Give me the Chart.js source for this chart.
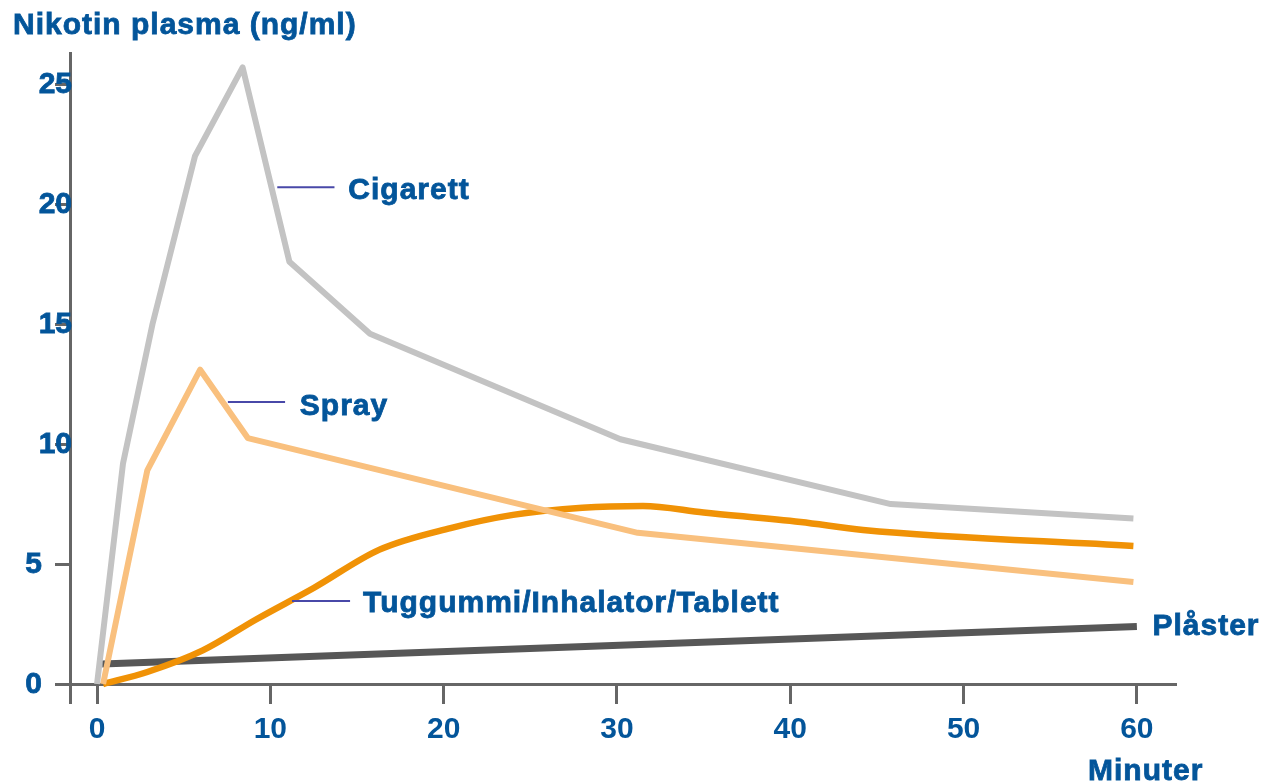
<!DOCTYPE html>
<html>
<head>
<meta charset="utf-8">
<title>Nikotin plasma</title>
<script src="https://cdn.jsdelivr.net/npm/chart.js@4"></script>
<style>
  html, body { margin: 0; padding: 0; background: #fff; }
  #wrap { width: 1261px; height: 783px; position: relative; }
</style>
</head>
<body>
<div id="wrap"><canvas id="nicotine-chart"></canvas></div>
<script>
// Data (minutes, ng/ml)
const cigMinutes = [0, 1.5, 3.2, 5.65, 8.4, 11.1, 15.75, 30.2, 45.8, 59.8];
const cigValues = [0, 9.2, 15, 22, 25.7, 17.6, 14.6, 10.2, 7.5, 6.9];

const sprayMinutes = [0.35, 2.9, 5.95, 8.7, 31.2, 59.8];
const sprayValues = [0, 8.9, 13.1, 10.25, 6.3, 4.25];

const gumMinutes = [0.35, 2.9, 6.1, 9.2, 12.5, 16.3, 20.4, 24, 28, 31.5, 35, 40.6, 44.2, 59.8];
const gumValues = [0, 0.5, 1.4, 2.7, 4.0, 5.6, 6.5, 7.05, 7.35, 7.42, 7.15, 6.75, 6.42, 5.75];

const patchMinutes = [0.3, 60];
const patchValues = [0.83, 2.4];

const xTicks = [0, 10, 20, 30, 40, 50, 60];
const yTicks = [0, 5, 10, 15, 20, 25];

const seriesNames = ["Cigarett", "Spray", "Tuggummi/Inhalator/Tablett", "Plåster"];

const blue = '#03559a';
const axisGray = '#666666';
const font = '"Liberation Sans", Arial, sans-serif';

function points(xs, ys) {
    return xs.map((x, i) => ({x: x, y: ys[i]}));
}

// where the series names sit (data units), kept apart from the data
const labelSpots = [
    {text: seriesNames[0], x: 14.5, y: 20.6, lead: [10.4, 13.7, 20.7]},
    {text: seriesNames[1], x: 11.7, y: 11.6, lead: [7.55, 10.85, 11.75]},
    {text: seriesNames[2], x: 15.35, y: 3.37, lead: [11.25, 14.6, 3.46]},
    {text: seriesNames[3], x: 60.9, y: 2.42}
];

// bold text with a thin outline so it reads as heavy as the original
function heavyText(ctx, txt, x, y) {
    ctx.fillText(txt, x, y);
    ctx.strokeText(txt, x, y);
}

// y tick labels, titles and series labels
const textPlugin = {
    id: 'texts',
    afterDraw(chart) {
        const ctx = chart.ctx;
        const xs = chart.scales.x, ys = chart.scales.y;
        const left = chart.chartArea.left;
        ctx.save();
        ctx.fillStyle = blue;
        ctx.strokeStyle = blue;
        ctx.lineWidth = 0.8;
        ctx.font = 'bold 30px ' + font;
        ctx.textBaseline = 'middle';
        ctx.textAlign = 'right';
        ys.ticks.forEach(t => {
            const lbl = String(t.value);
            heavyText(ctx, lbl, lbl.length > 1 ? left + 2 : left - 28, ys.getPixelForValue(t.value) + 1);
        });

        ctx.letterSpacing = '1px';
        ctx.textAlign = 'left';
        ctx.textBaseline = 'alphabetic';
        heavyText(ctx, 'Nikotin plasma (ng/ml)', 13, 34);
        heavyText(ctx, 'Minuter', 1088, 780);

        ctx.textBaseline = 'middle';
        labelSpots.forEach(s => {
            heavyText(ctx, s.text, xs.getPixelForValue(s.x), ys.getPixelForValue(s.y) + 1);
        });

        ctx.strokeStyle = '#4848a8';
        ctx.lineWidth = 2;
        labelSpots.filter(s => s.lead).forEach(s => {
            ctx.beginPath();
            ctx.moveTo(xs.getPixelForValue(s.lead[0]), ys.getPixelForValue(s.lead[2]));
            ctx.lineTo(xs.getPixelForValue(s.lead[1]), ys.getPixelForValue(s.lead[2]));
            ctx.stroke();
        });
        ctx.restore();
    }
};

var ctx = document.getElementById('nicotine-chart');

var chartData = {
    datasets: [
        {label: seriesNames[0], data: points(cigMinutes, cigValues),
            borderColor: '#c3c3c3', borderWidth: 6, tension: 0},
        {label: seriesNames[1], data: points(sprayMinutes, sprayValues),
            borderColor: '#f9c07e', borderWidth: 6, tension: 0},
        {label: seriesNames[2], data: points(gumMinutes, gumValues),
            borderColor: '#f09206', borderWidth: 6.5, cubicInterpolationMode: 'monotone'},
        {label: seriesNames[3], data: points(patchMinutes, patchValues),
            borderColor: '#575757', borderWidth: 7, tension: 0}
    ]
};

var chartOptions = {
    responsive: true,
    maintainAspectRatio: false,
    animation: false,
    events: [],
    layout: {padding: {left: 0, right: 86, top: 53, bottom: 81}},
    elements: {point: {radius: 0}, line: {borderJoinStyle: 'round', fill: false}},
    plugins: {legend: {display: false}, tooltip: {enabled: false}},
    scales: {
        x: {
            type: 'linear',
            position: {y: 0},
            min: -1.56,
            max: 62.2,
            afterBuildTicks: s => { s.ticks = xTicks.map(v => ({value: v})); },
            grid: {drawOnChartArea: false, drawTicks: true, tickLength: 18, color: axisGray, lineWidth: 3},
            border: {display: true, color: axisGray, width: 3},
            ticks: {color: blue, padding: 10, maxRotation: 0,
                font: {family: font, size: 30, weight: 'bold'}}
        },
        y: {
            type: 'linear',
            position: 'left',
            min: -0.75,
            max: 26.3,
            afterBuildTicks: s => { s.ticks = yTicks.map(v => ({value: v})); },
            afterFit: s => { s.width = 70; },
            grid: {drawOnChartArea: false, drawTicks: true, tickLength: 15, color: axisGray, lineWidth: 3},
            border: {display: true, color: axisGray, width: 3},
            ticks: {display: false}
        }
    }
};

var config = {
    type: 'line',
    data: chartData,
    options: chartOptions,
    plugins: [textPlugin]
};

var nicotineChart = new Chart(ctx, config);
</script>
</body>
</html>
